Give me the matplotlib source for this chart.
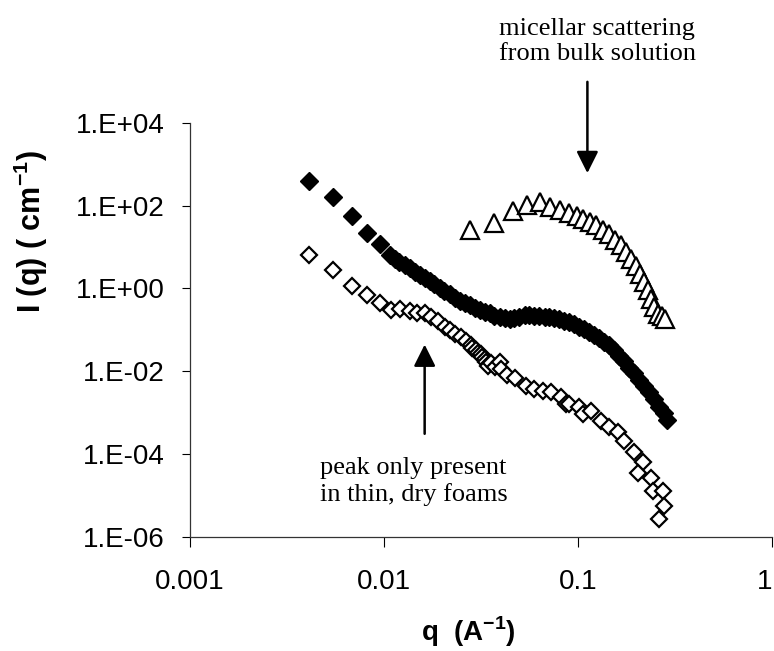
import numpy as np
import matplotlib
matplotlib.use("Agg")
import matplotlib.pyplot as plt

plt.rcParams['font.family'] = ['Liberation Sans', 'DejaVu Sans']
plt.rcParams['mathtext.fontset'] = 'custom'
plt.rcParams['mathtext.rm'] = 'Liberation Sans'
plt.rcParams['mathtext.bf'] = 'Liberation Sans:bold'

# thick films (filled diamonds)
q_filled = [0.00411, 0.00546, 0.00684, 0.00821, 0.00950, 0.0107, 0.0114, 0.0120, 0.0128,
            0.0136, 0.0144, 0.0153, 0.0162, 0.0172, 0.0182, 0.0194, 0.0205, 0.0218, 0.0231,
            0.0245, 0.0260, 0.0276, 0.0293, 0.0311, 0.0330, 0.0350, 0.0371, 0.0394, 0.0418,
            0.0444, 0.0470, 0.0499, 0.0530, 0.0562, 0.0596, 0.0633, 0.0672, 0.0713, 0.0756,
            0.0802, 0.0851, 0.0903, 0.0958, 0.1017, 0.1080, 0.1145, 0.1215, 0.1288, 0.1368,
            0.1451, 0.1540, 0.1633, 0.1733, 0.1838, 0.1950, 0.2070, 0.2195, 0.2331, 0.2475,
            0.2624, 0.2760, 0.2884]
I_filled = [395, 162, 56, 21.8, 11.6, 6.3, 5.2, 4.26, 3.6,
            3.05, 2.5, 2.07, 1.75, 1.48, 1.25, 1.03, 0.85, 0.72, 0.60,
            0.51, 0.45, 0.39, 0.345, 0.31, 0.275, 0.25, 0.22, 0.20, 0.19,
            0.185, 0.195, 0.21, 0.225, 0.225, 0.215, 0.215, 0.205, 0.20, 0.19,
            0.178, 0.165, 0.151, 0.136, 0.120, 0.106, 0.091, 0.076, 0.062, 0.051,
            0.042, 0.032, 0.024, 0.0175, 0.0123, 0.0089, 0.0063, 0.0044, 0.0031, 0.0021,
            0.00140, 0.00098, 0.00068]

# thin dry foams (open diamonds)
q_open = [0.00411, 0.00546, 0.00684, 0.00818, 0.00950, 0.01083, 0.01205, 0.01356, 0.01478,
          0.01620, 0.01754, 0.01890, 0.02053, 0.02179, 0.02312, 0.02502, 0.02655, 0.02818,
          0.0285, 0.02990, 0.0305, 0.03172, 0.0320, 0.03299, 0.0336, 0.0348, 0.03418,
          0.03542, 0.03713, 0.03939, 0.04019, 0.04331, 0.04707, 0.05405, 0.05963, 0.06580,
          0.07269, 0.0818, 0.0868, 0.0903, 0.1017, 0.1057, 0.1168, 0.1315, 0.1451, 0.1601,
          0.1733, 0.1951, 0.2153, 0.2030, 0.2377, 0.2423, 0.2729, 0.2785, 0.2624]
I_open = [6.3, 2.84, 1.12, 0.678, 0.441, 0.305, 0.323, 0.283, 0.253,
          0.253, 0.202, 0.162, 0.1205, 0.100, 0.080, 0.066, 0.053, 0.042,
          0.036, 0.033, 0.028, 0.026, 0.022, 0.020, 0.017, 0.0148, 0.0137,
          0.0162, 0.0130, 0.0165, 0.0116, 0.0083, 0.0069, 0.0045, 0.00375, 0.0034,
          0.0031, 0.00234, 0.00165, 0.00162, 0.00134, 0.00093, 0.00112, 0.00064, 0.000442, 0.000334,
          0.000210, 0.000110, 6.3e-5, 3.6e-5, 2.7e-5, 1.3e-5, 1.3e-5, 5.6e-6, 2.7e-6]

# bulk solution (open triangles)
q_bulk = [0.02761, 0.03682, 0.04612, 0.05470, 0.06381, 0.07184, 0.0809, 0.0896, 0.0985,
          0.1066, 0.1154, 0.1239, 0.1340, 0.1451, 0.1558, 0.1667, 0.1768, 0.1877, 0.1991,
          0.2096, 0.2196, 0.2284, 0.2377, 0.2472, 0.2572, 0.2709, 0.2818]
I_bulk = [25.3, 38.9, 73.1, 102, 119, 92.9, 77.2, 66.4, 55.3,
          48.6, 40.3, 33.5, 26.4, 21.1, 15.1, 11.0, 7.57, 5.24, 3.41,
          2.27, 1.42, 0.895, 0.564, 0.353, 0.244, 0.222, 0.185]

yticks = [1e-6, 1e-4, 1e-2, 1e0, 1e2, 1e4]
ytick_labels = ['1.E-06', '1.E-04', '1.E-02', '1.E+00', '1.E+02', '1.E+04']
xticks = [0.001, 0.01, 0.1, 1]
xtick_labels = ['0.001', '0.01', '0.1', '1']

fig = plt.figure(figsize=(7.74, 6.51), dpi=100)
ax = fig.add_axes([0.2455, 0.1751, 0.7519, 0.6364])

ax.plot(q_filled, I_filled, linestyle='none', marker='D', ms=9.5, mfc='black', mec='black', mew=1)
ax.plot(q_open, I_open, linestyle='none', marker='D', ms=8.5, mfc='white', mec='black', mew=1.6)
ax.plot(q_bulk, I_bulk, linestyle='none', marker='^', ms=13, mfc='white', mec='black', mew=1.6)

ax.set_xscale('log')
ax.set_yscale('log')
ax.set_xlim(0.001, 1)
ax.set_ylim(1e-6, 1e4)
ax.set_xticks(xticks)
ax.set_xticklabels(xtick_labels)
ax.set_yticks(yticks)
ax.set_yticklabels(ytick_labels)
ax.minorticks_off()
ax.tick_params(axis='y', direction='out', length=6, width=0.8, pad=12, labelsize=20)
ax.tick_params(axis='x', direction='out', length=7, width=0.8, pad=16, labelsize=20)
ax.get_xticklabels()[-1].set_horizontalalignment('right')

for s in ['top', 'right']:
    ax.spines[s].set_visible(False)
for s in ['left', 'bottom']:
    ax.spines[s].set_linewidth(0.9)
    ax.spines[s].set_color('#333333')

ax.set_ylabel(r'I (q) ( cm$^{\mathbf{-1}}$)', fontsize=22, fontweight='bold')
ax.yaxis.set_label_coords(-0.24, 0.737)
ax.set_xlabel(r'q  (A$^{\mathbf{-1}}$)', fontsize=20, fontweight='bold')
ax.xaxis.set_label_coords(0.478, -0.188)

arrow = dict(arrowstyle='-|>,head_length=0.6,head_width=0.3', color='black', lw=1.8,
             mutation_scale=22, shrinkA=0, shrinkB=0)
ax.annotate('', xy=(0.1118, 607), xytext=(0.1118, 9.7e4), arrowprops=arrow, annotation_clip=False)
ax.annotate('', xy=(0.0162, 0.0442), xytext=(0.0162, 3.1e-4), arrowprops=arrow, annotation_clip=False)

ax.text(0.1259, 9.0e5, 'micellar scattering\nfrom bulk solution', ha='center', va='center',
        multialignment='center', family='Liberation Serif', fontsize=19, linespacing=1.2,
        clip_on=False)
ax.text(0.01422, 2.2e-5, 'peak only present\nin thin, dry foams', ha='center', va='center',
        multialignment='center', family='Liberation Serif', fontsize=19, linespacing=1.2)

fig.savefig('out.png', dpi=100)
